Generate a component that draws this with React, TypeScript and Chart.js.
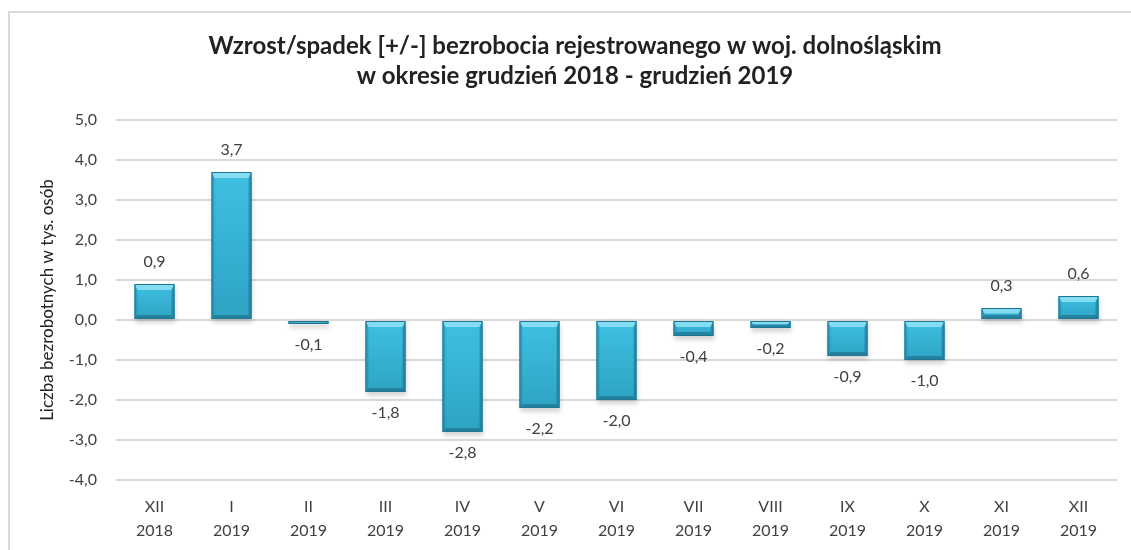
import React, { useEffect, useRef } from "react";
import { Chart, registerables } from "chart.js";

Chart.register(...registerables);

const categories: string[][] = [
  ["XII", "2018"], ["I", "2019"], ["II", "2019"], ["III", "2019"], ["IV", "2019"],
  ["V", "2019"], ["VI", "2019"], ["VII", "2019"], ["VIII", "2019"], ["IX", "2019"],
  ["X", "2019"], ["XI", "2019"], ["XII", "2019"],
];
const changeValues: number[] = [0.9, 3.7, -0.1, -1.8, -2.8, -2.2, -2.0, -0.4, -0.2, -0.9, -1.0, 0.3, 0.6];
const titleLines: string[] = [
  "Wzrost/spadek [+/-] bezrobocia rejestrowanego w woj. dolnośląskim",
  "w okresie grudzień 2018 - grudzień 2019",
];
const yAxisTitle = "Liczba bezrobotnych w tys. osób";
const yMin = -4;
const yMax = 5;

const FONT = "Lato, 'Open Sans', sans-serif";
const fmt = (v: number) => v.toFixed(1).replace(".", ",");

const bevelPlugin = {
  id: "bevel",
  beforeDatasetsDraw(chart: any) {
    const ctx = chart.ctx;
    const meta = chart.getDatasetMeta(0);
    ctx.save();
    meta.data.forEach((bar: any) => {
      const { x, y, base, width } = bar.getProps(["x", "y", "base", "width"], true);
      const l = x - width / 2;
      const top = Math.min(y, base);
      const h = Math.abs(base - y);
      ctx.fillStyle = "rgba(0,0,0,0.16)";
      ctx.filter = "blur(2px)";
      ctx.fillRect(l + 1, top + 3, width, h + 1);
      ctx.filter = "none";
    });
    ctx.restore();
  },
  afterDatasetsDraw(chart: any) {
    const ctx = chart.ctx;
    const meta = chart.getDatasetMeta(0);
    ctx.save();
    meta.data.forEach((bar: any) => {
      const { x, y, base, width } = bar.getProps(["x", "y", "base", "width"], true);
      const l = x - width / 2;
      const r = x + width / 2;
      const t = Math.min(y, base);
      const b = Math.max(y, base);
      const h = b - t;
      const g = ctx.createLinearGradient(0, t, 0, b);
      g.addColorStop(0, "#3fc0e2");
      g.addColorStop(1, "#2ea3c4");
      ctx.fillStyle = g;
      ctx.fillRect(l, t, width, h);
      const bt = Math.min(6, h / 2);
      const bs = Math.min(3, width / 2);
      const bb = Math.min(4, h / 2);
      if (h >= 3) {
        ctx.fillStyle = "rgba(150,230,248,0.8)";
        ctx.beginPath();
        ctx.moveTo(l, t); ctx.lineTo(r, t); ctx.lineTo(r - bs, t + bt); ctx.lineTo(l + bs, t + bt); ctx.closePath();
        ctx.fill();
        ctx.fillStyle = "rgba(25,100,125,0.55)";
        ctx.beginPath();
        ctx.moveTo(l, b); ctx.lineTo(r, b); ctx.lineTo(r - bs, b - bb); ctx.lineTo(l + bs, b - bb); ctx.closePath();
        ctx.fill();
        ctx.fillStyle = "rgba(30,120,150,0.35)";
        ctx.beginPath();
        ctx.moveTo(l, t); ctx.lineTo(l + bs, t + bt); ctx.lineTo(l + bs, b - bb); ctx.lineTo(l, b); ctx.closePath();
        ctx.fill();
        ctx.fillStyle = "rgba(20,100,125,0.45)";
        ctx.beginPath();
        ctx.moveTo(r, t); ctx.lineTo(r - bs, t + bt); ctx.lineTo(r - bs, b - bb); ctx.lineTo(r, b); ctx.closePath();
        ctx.fill();
      }
      ctx.strokeStyle = "#1e7690";
      ctx.lineWidth = 1;
      ctx.strokeRect(l + 0.5, t + 0.5, width - 1, Math.max(h - 1, 0));
    });
    ctx.font = `16px ${FONT}`;
    ctx.fillStyle = "#404040";
    ctx.textAlign = "center";
    ctx.textBaseline = "middle";
    meta.data.forEach((bar: any, i: number) => {
      const { x, y } = bar.getProps(["x", "y"], true);
      const v = changeValues[i];
      ctx.fillText(fmt(v), x, v >= 0 ? y - 22 : y + 21);
    });
    ctx.restore();
  },
};

export default function App() {
  const ref = useRef<HTMLCanvasElement>(null);
  useEffect(() => {
    if (!ref.current) return;
    const chart = new Chart(ref.current, {
      type: "bar",
      data: {
        labels: categories,
        datasets: [
          {
            data: changeValues,
            backgroundColor: "rgba(0,0,0,0)",
            borderWidth: 0,
            barPercentage: 1,
            categoryPercentage: 0.52,
          },
        ],
      },
      options: {
        animation: false,
        responsive: false,
        layout: { padding: { left: 33, right: 14, top: 0, bottom: -8 } },
        plugins: {
          legend: { display: false },
          tooltip: { enabled: false },
          title: {
            display: true,
            text: titleLines,
            color: "#222222",
            font: { family: FONT, size: 24, weight: "bold", lineHeight: 1.25 },
            padding: { top: 31, bottom: 29 },
          },
        },
        scales: {
          x: {
            grid: { display: false, drawTicks: false },
            border: { display: false },
            ticks: {
              color: "#404040",
              font: { family: FONT, size: 16, lineHeight: 1.5 },
              padding: 15,
              maxRotation: 0,
              autoSkip: false,
            },
          },
          y: {
            min: yMin,
            max: yMax,
            grid: { color: "#d9d9d9", lineWidth: 2, drawTicks: false },
            border: { display: false },
            ticks: {
              stepSize: 1,
              color: "#404040",
              font: { family: FONT, size: 16 },
              padding: 19,
              callback: (v: any) => fmt(Number(v)),
            },
            title: {
              display: true,
              text: yAxisTitle,
              color: "#222222",
              font: { family: FONT, size: 17 },
              padding: { top: 4, bottom: 4 },
            },
            afterFit: (scale: any) => {
              scale.width = 83;
            },
          },
        },
      },
      plugins: [bevelPlugin],
    });
    return () => chart.destroy();
  }, []);
  return (
    <div style={{ position: "fixed", left: 0, top: 0, width: 1131, height: 550, overflow: "hidden", background: "#fff" }}>
      <div
        style={{
          position: "absolute",
          left: 8,
          top: 11,
          width: 1200,
          height: 600,
          border: "2px solid #d9d9d9",
          boxSizing: "border-box",
        }}
      />
      <canvas ref={ref} width={1131} height={550} style={{ position: "absolute", left: 0, top: 0, width: 1131, height: 550 }} />
    </div>
  );
}
